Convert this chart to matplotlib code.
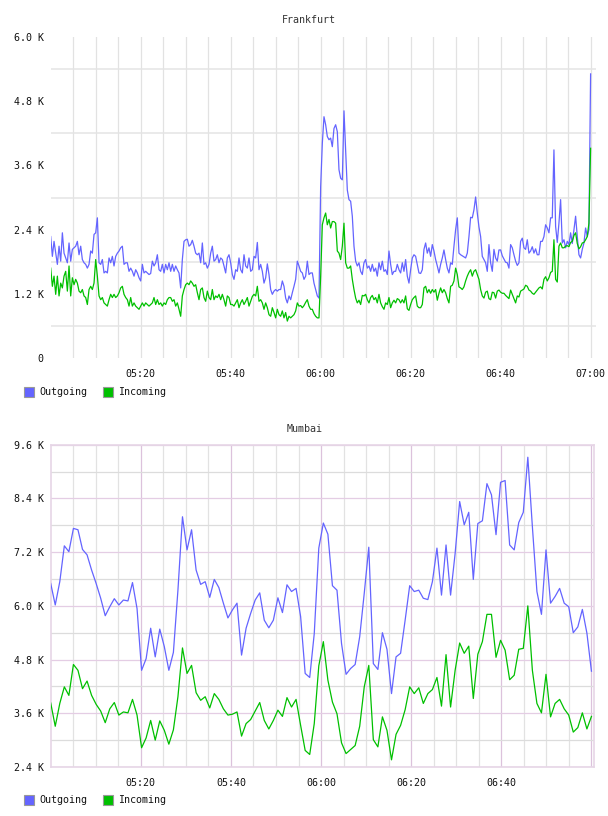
import numpy as np
import matplotlib.pyplot as plt
from matplotlib.patches import Rectangle

# Frankfurt traffic in thousands, evenly sampled from 05:00 to 07:00
frankfurt_out = [
    2.27, 1.90, 2.18, 1.96, 1.75, 2.09, 1.81, 2.34, 1.96, 1.87,
    1.78, 2.15, 1.81, 2.03, 2.06, 2.09, 2.18, 1.93, 2.09, 1.84,
    1.78, 1.75, 1.68, 1.75, 2.00, 1.96, 2.31, 2.34, 2.62, 1.78,
    1.75, 1.84, 1.59, 1.62, 1.59, 1.87, 1.78, 1.90, 1.72, 1.90,
    1.96, 2.00, 2.06, 2.09, 1.75, 1.78, 1.78, 1.62, 1.68, 1.62,
    1.53, 1.65, 1.59, 1.50, 1.44, 1.75, 1.59, 1.62, 1.59, 1.56,
    1.58, 1.81, 1.72, 1.78, 1.93, 1.65, 1.62, 1.75, 1.59, 1.75,
    1.65, 1.78, 1.62, 1.75, 1.62, 1.72, 1.65, 1.59, 1.31, 1.84,
    2.18, 2.21, 2.22, 2.09, 2.12, 2.20, 2.09, 1.96, 1.93, 1.96,
    1.78, 2.15, 1.75, 1.78, 1.68, 1.75, 1.96, 2.09, 1.81, 1.84,
    1.93, 1.78, 1.87, 1.84, 1.72, 1.59, 1.87, 1.93, 1.78, 1.56,
    1.47,
    1.65, 1.62, 1.87, 1.65, 1.59, 1.93, 1.72, 1.68, 1.87, 1.62,
    1.65, 1.90, 1.87, 2.16, 1.65, 1.75, 1.62, 1.40, 1.50, 1.76,
    1.56, 1.28, 1.19, 1.25, 1.28, 1.25, 1.28, 1.28, 1.44, 1.34,
    1.12, 1.03, 1.16, 1.09, 1.22, 1.34, 1.47, 1.81, 1.72, 1.62,
    1.59, 1.47, 1.53, 1.81, 1.56, 1.59, 1.59, 1.40, 1.28, 1.16,
    1.12, 3.20, 4.01, 4.51, 4.36, 4.14, 4.08, 4.11, 3.95, 4.29,
    4.36, 4.23, 3.52, 3.36, 3.33, 4.62, 3.89, 3.14, 2.96, 2.93,
    2.65, 2.09, 1.81, 1.72, 1.78, 1.62, 1.56, 1.78, 1.84, 1.68,
    1.72, 1.62, 1.75, 1.62, 1.68, 1.53, 1.78, 1.65, 1.81, 1.62,
    1.65, 1.56, 2.00, 1.75, 1.56, 1.62, 1.62, 1.75, 1.65, 1.59,
    1.78, 1.62, 1.84, 1.53, 1.40, 1.65, 1.87, 1.93, 1.90,
    1.75, 1.59, 1.58, 1.65, 2.03, 2.15, 1.96, 2.06, 1.90, 2.12,
    2.00, 1.84, 1.72, 1.59, 1.75, 1.87, 2.02, 1.84, 1.68, 1.59,
    1.78, 1.75, 2.09, 2.40, 2.62, 1.96, 1.93, 1.91, 1.89, 1.87,
    1.96, 2.27, 2.63, 2.62, 2.77, 3.01, 2.71, 2.45, 2.27, 1.90,
    1.84, 1.78, 1.62, 2.12, 1.78, 1.62, 2.03, 1.87, 1.81, 2.02,
    2.02, 1.91, 1.85, 1.79, 1.78, 1.68, 2.12, 2.06, 1.93, 1.81,
    1.73, 1.78, 2.18, 2.24, 2.06, 2.03, 2.21, 1.96, 2.00, 2.08,
    1.96, 2.04, 1.93, 1.93, 2.18, 2.18, 2.27, 2.49, 2.43, 2.34,
    2.62, 2.62, 3.89, 2.46, 2.16, 2.52, 2.96, 2.15, 2.21, 2.06,
    2.18, 2.12, 2.34, 2.14, 2.40, 2.65, 2.27, 1.93, 1.87, 2.03,
    2.15, 2.43, 2.27, 2.40, 5.31,
]
frankfurt_in = [
    1.68, 1.34, 1.53, 1.19, 1.53, 1.16, 1.40, 1.31, 1.53, 1.62,
    1.25, 1.72, 1.16, 1.50, 1.37, 1.47, 1.40, 1.25, 1.22, 1.28,
    1.16, 1.13, 1.00, 1.28, 1.34, 1.28, 1.40, 1.84, 1.53, 1.16,
    1.09, 1.13, 1.03, 1.00, 0.97, 1.09, 1.19, 1.13, 1.19, 1.13,
    1.16, 1.22, 1.31, 1.34, 1.19, 1.13, 1.09, 0.97, 1.13, 0.97,
    1.03, 0.97, 0.94, 0.91, 0.97, 1.03, 0.97, 1.03, 1.00, 0.97,
    1.00, 1.03, 1.13, 1.00, 1.09, 1.00, 1.03, 0.97, 1.03, 1.00,
    1.09, 1.13, 1.13, 1.06, 1.09, 0.97, 1.03, 0.91, 0.78, 1.16,
    1.28, 1.37, 1.40, 1.37, 1.44, 1.40, 1.34, 1.37, 1.22, 1.09,
    1.28, 1.31, 1.13, 1.06, 1.25, 1.13, 1.09, 1.28, 1.09, 1.16,
    1.13, 1.19, 1.09, 1.19, 1.09, 0.97, 1.16, 1.13, 1.00, 1.00,
    0.97,
    1.03, 1.09, 0.94, 1.03, 1.09, 1.00, 1.06, 1.13, 0.97, 1.06,
    1.15, 1.19, 1.16, 1.34, 1.06, 1.09, 1.03, 0.91, 1.03, 0.94,
    0.81, 0.78, 0.94, 0.85, 0.75, 0.91, 0.81, 0.78, 0.88, 0.75,
    0.85, 0.69, 0.78, 0.75, 0.78, 0.81, 0.88, 1.03, 0.97, 0.98,
    0.94, 0.98, 1.04, 1.09, 0.97, 0.91, 0.91, 0.83, 0.78, 0.75,
    0.75, 1.53, 2.49, 2.62, 2.71, 2.49, 2.59, 2.43, 2.55, 2.55,
    2.52, 2.00, 1.96, 1.84, 2.09, 2.52, 1.78, 1.68, 1.68, 1.72,
    1.47, 1.28, 1.12, 1.03, 1.08, 1.00, 1.17, 1.16, 1.19, 1.09,
    1.03, 1.13, 1.17, 1.09, 1.13, 1.03, 1.19, 1.03, 0.96, 0.91,
    1.03, 1.00, 1.13, 0.94, 1.03, 1.08, 1.03, 1.11, 1.09, 1.03,
    1.09, 1.03, 1.16, 0.92, 0.89, 1.00, 1.09, 1.13, 1.16,
    0.97, 0.94, 0.94, 1.00, 1.31, 1.34, 1.22, 1.28, 1.21, 1.28,
    1.23, 1.28, 1.08, 1.21, 1.31, 1.22, 1.28, 1.22, 1.11, 1.03,
    1.34, 1.36, 1.44, 1.68, 1.56, 1.33, 1.31, 1.28, 1.33, 1.44,
    1.53, 1.60, 1.65, 1.53, 1.62, 1.65, 1.56, 1.47, 1.28, 1.16,
    1.12, 1.23, 1.25, 1.11, 1.09, 1.23, 1.22, 1.12, 1.25, 1.27,
    1.23, 1.21, 1.21, 1.17, 1.14, 1.11, 1.27, 1.19, 1.11, 1.03,
    1.16, 1.14, 1.25, 1.27, 1.29, 1.36, 1.34, 1.27, 1.25, 1.21,
    1.19, 1.23, 1.27, 1.31, 1.33, 1.29, 1.47, 1.52, 1.44, 1.50,
    1.60, 1.62, 2.21, 1.47, 1.42, 2.09, 2.15, 2.06, 2.06, 2.09,
    2.10, 2.08, 2.16, 2.18, 2.29, 2.34, 2.14, 2.04, 2.08, 2.15,
    2.16, 2.21, 2.27, 2.52, 3.92,
]

# Mumbai traffic in thousands, one sample per minute
mumbai_out = [
    6.50, 6.02, 6.54, 7.34, 7.21, 7.73, 7.70, 7.26, 7.14, 6.80,
    6.50, 6.17, 5.78, 5.98, 6.16, 6.02, 6.13, 6.11, 6.52, 5.94,
    4.56, 4.82, 5.50, 4.86, 5.48, 5.09, 4.56, 4.96, 6.35, 7.99,
    7.25, 7.70, 6.80, 6.48, 6.54, 6.19, 6.59, 6.41, 6.06, 5.73,
    5.91, 6.06, 4.90, 5.50, 5.83, 6.13, 6.29, 5.68, 5.51, 5.68,
    6.18, 5.85, 6.47, 6.32, 6.39, 5.76, 4.49, 4.40, 5.38, 7.29,
    7.85, 7.60, 6.45, 6.35, 5.16, 4.47, 4.60, 4.69, 5.31, 6.28,
    7.31, 4.71, 4.58, 5.40, 5.03, 4.04, 4.86, 4.94, 5.68, 6.45,
    6.32, 6.35, 6.17, 6.14, 6.54, 7.29, 6.24, 7.36, 6.24, 7.17,
    8.33, 7.81, 8.09, 6.59, 7.84, 7.90, 8.73, 8.48, 7.59, 8.76,
    8.80, 7.36, 7.25, 7.86, 8.09, 9.32, 7.77, 6.32, 5.81, 7.25,
    6.06, 6.21, 6.39, 6.06, 5.98, 5.40, 5.53, 5.92, 5.39, 4.54,
]
mumbai_in = [
    3.83, 3.31, 3.82, 4.19, 4.00, 4.69, 4.56, 4.15, 4.32, 4.00,
    3.80, 3.65, 3.39, 3.70, 3.84, 3.56, 3.63, 3.61, 3.91, 3.56,
    2.83, 3.05, 3.44, 3.00, 3.43, 3.22, 2.91, 3.23, 3.97, 5.06,
    4.49, 4.67, 4.06, 3.89, 3.97, 3.72, 4.04, 3.91, 3.70, 3.56,
    3.58, 3.63, 3.09, 3.37, 3.46, 3.65, 3.84, 3.44, 3.25, 3.44,
    3.67, 3.53, 3.95, 3.74, 3.91, 3.33, 2.77, 2.68, 3.37, 4.66,
    5.20, 4.34, 3.85, 3.59, 2.94, 2.70, 2.79, 2.88, 3.31, 4.19,
    4.67, 3.01, 2.85, 3.52, 3.22, 2.56, 3.13, 3.33, 3.68, 4.19,
    4.04, 4.17, 3.82, 4.04, 4.13, 4.40, 3.76, 4.91, 3.74, 4.56,
    5.17, 4.94, 5.10, 3.93, 4.92, 5.20, 5.81, 5.81, 4.85, 5.23,
    5.01, 4.35, 4.45, 5.03, 5.05, 6.00, 4.56, 3.82, 3.61, 4.47,
    3.52, 3.82, 3.91, 3.70, 3.56, 3.18, 3.28, 3.61, 3.25, 3.53,
]

series_names = ["Outgoing", "Incoming"]
frankfurt_xlabels = ["05:20", "05:40", "06:00", "06:20", "06:40", "07:00"]
mumbai_xlabels = ["05:20", "05:40", "06:00", "06:20", "06:40"]
frankfurt_yticks = [0, 1.2, 2.4, 3.6, 4.8, 6.0]
mumbai_yticks = [2.4, 3.6, 4.8, 6.0, 7.2, 8.4, 9.6]

OUT_COLOR = "#6464ff"
IN_COLOR = "#00c000"
FONT = "DejaVu Sans Mono"
W, H = 608, 816


def ylabel(v):
    return "0" if v == 0 else "%.1f K" % v


def draw_panel(rect, out, inc, yticks, xlabels, xmax, framed):
    ax = fig.add_axes(rect)
    t_out = np.linspace(0, 120, len(out))
    t_in = np.linspace(0, 120, len(inc))
    ax.set_xlim(0, xmax)
    ax.set_ylim(yticks[0], yticks[-1])

    # Grid: every 5 minutes and every 0.6 K
    for m in np.arange(5, 121, 5):
        major = m % 20 == 0
        if framed:
            c = "#dcc2dc" if major else "#e2e2e2"
        else:
            c = "#e2e2e2"
        ax.axvline(m, color=c, lw=0.9, zorder=1)
    for v in np.arange(yticks[0], yticks[-1] + 0.01, 0.6):
        labelled = any(abs(v - y) < 0.01 for y in yticks)
        if framed:
            c = "#e4cde4" if labelled else "#dcdcdc"
            ax.axhline(v, color=c, lw=0.9, zorder=1)
        elif not labelled:
            ax.axhline(v, color="#e4e4e4", lw=1.1, zorder=1)

    ax.plot(t_out, out, color=OUT_COLOR, lw=0.9, zorder=3)
    ax.plot(t_in, inc, color=IN_COLOR, lw=0.9, zorder=4)

    for s in ax.spines.values():
        s.set_visible(framed)
        s.set_color("#e6d6e6")
        s.set_linewidth(1.2)

    ax.set_yticks(yticks)
    ax.set_yticklabels([ylabel(v) for v in yticks])
    ax.set_xticks([20 * (i + 1) for i in range(len(xlabels))])
    ax.set_xticklabels(xlabels)
    ax.tick_params(length=0, labelsize=7.2, colors="#111111")
    ax.tick_params(axis="y", pad=5)
    ax.tick_params(axis="x", pad=8)
    for lab in ax.get_xticklabels() + ax.get_yticklabels():
        lab.set_fontfamily(FONT)
    return ax


def legend(y_px):
    x_px = 24
    for name, col in zip(series_names, [OUT_COLOR, IN_COLOR]):
        fig.patches.append(Rectangle((x_px / W, 1 - (y_px + 5) / H), 10 / W, 10 / H,
                                     transform=fig.transFigure, facecolor=col,
                                     edgecolor="#999999", lw=0.8))
        fig.text((x_px + 15) / W, 1 - y_px / H, name, fontsize=7.2, family=FONT,
                 va="center", color="#111111")
        x_px += 79


fig = plt.figure(figsize=(W / 100, H / 100), dpi=100)

# Frankfurt panel
left = 50.7 / W
draw_panel([left, 1 - 358 / H, 545.3 / W, 321 / H], frankfurt_out, frankfurt_in,
           frankfurt_yticks, frankfurt_xlabels, 121.2, False)
fig.text(309 / W, 1 - 20 / H, "Frankfurt", ha="center", va="center",
         fontsize=7.2, family=FONT, color="#333333")
legend(392)

# Mumbai panel
draw_panel([left, 1 - 767 / H, 543 / W, 322.3 / H], mumbai_out, mumbai_in,
           mumbai_yticks, mumbai_xlabels, 120.5, True)
fig.text(305 / W, 1 - 429 / H, "Mumbai", ha="center", va="center",
         fontsize=7.2, family=FONT, color="#333333")
legend(800)

fig.savefig("out.png", dpi=100)
